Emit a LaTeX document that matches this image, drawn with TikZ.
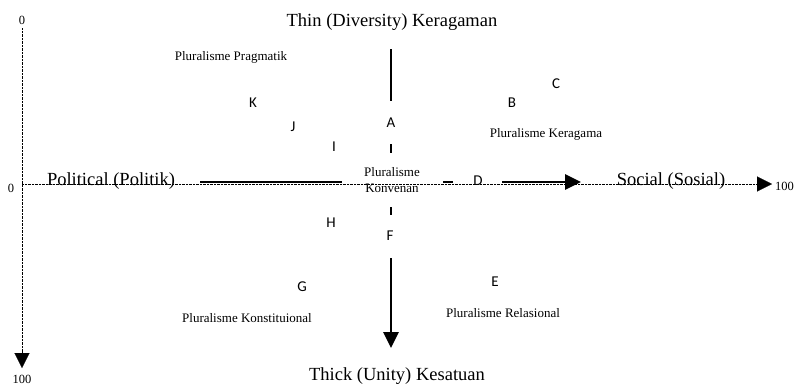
\documentclass[tikz,border=0pt]{standalone}
\usepackage{fontspec}
\setmainfont{Liberation Serif}
\newfontfamily\letterfont{Carlito}
\usetikzlibrary{arrows.meta}
\tikzset{
  axisline/.style={line width=0.9pt, dash pattern=on 0.7pt off 0.7pt},
  axishead/.style={-{Triangle[length=15pt,width=15pt]}},
  thickline/.style={line width=2.8pt},
  thickhead/.style={-{Triangle[length=16pt,width=15pt]}},
  axislabel/.style={font=\fontsize{18.5}{20}\selectfont, inner sep=0pt},
  smalltxt/.style={font=\fontsize{13}{15}\selectfont, inner sep=0pt},
  numtxt/.style={font=\fontsize{12.5}{14}\selectfont, inner sep=0pt},
  letter/.style={font=\letterfont\fontsize{15}{17}\selectfont, inner sep=0pt},
}
\begin{document}
\begin{tikzpicture}[x=1pt,y=-1pt]
\useasboundingbox (0,0) rectangle (796,386);
% axis number labels
\node[numtxt] (v0) at (22,20) {0};
\node[numtxt] (v100) at (22,379) {100};
\node[numtxt] (h0) at (11,188) {0};
\node[numtxt,anchor=west] (h100) at (775,186) {100};
% dotted axes
\coordinate (vtop) at (22,28);
\coordinate (vend) at (22,368);
\coordinate (hstart) at (22,184);
\coordinate (hend) at (772,184);
\draw[axisline] (vtop) -- (22,352);
\draw[axishead, line width=0.1pt] (22,352) -- (vend);
\draw[axisline] (hstart) -- (757,184);
\draw[axishead, line width=0.1pt] (757,184) -- (hend);
% axis titles
\node[axislabel] (pol) at (111,181) {Political (Politik)};
\node[axislabel] (soc) at (671,181) {Social (Sosial)};
\node[axislabel] (thin) at (392,22) {Thin (Diversity) Keragaman};
\node[axislabel] (thick) at (397,376) {Thick (Unity) Kesatuan};
% thick vertical
\coordinate (va1) at (391,49);
\coordinate (va2) at (391,101);
\coordinate (va3) at (391,144);
\coordinate (va4) at (391,153);
\coordinate (va5) at (391,207);
\coordinate (va6) at (391,215);
\coordinate (va7) at (391,258);
\coordinate (va8) at (391,348);
\draw[thickline] (va1) -- (va2);
\draw[thickline] (va3) -- (va4);
\draw[thickline] (va5) -- (va6);
\draw[thickline,thickhead] (va7) -- (va8);
% thick horizontal
\coordinate (ha1) at (200,182);
\coordinate (ha2) at (342,182);
\coordinate (ha3) at (443,182);
\coordinate (ha4) at (453,182);
\coordinate (ha5) at (502,182);
\coordinate (ha6) at (581,182);
\draw[thickline] (ha1) -- (ha2);
\draw[thickline] (ha3) -- (ha4);
\draw[thickline,thickhead] (ha5) -- (ha6);
% centre label
\node[smalltxt, align=center] (konv) at (392,180) {Pluralisme\\[1pt]Konvenan};
% quadrant labels
\node[smalltxt] (prag) at (231,57) {Pluralisme Pragmatik};
\node[smalltxt] (kerag) at (546,134) {Pluralisme Keragama};
\node[smalltxt] (konst) at (247,318) {Pluralisme Konstituional};
\node[smalltxt] (rel) at (503,313) {Pluralisme Relasional};
% letters
\node[letter] (K) at (253,103) {K};
\node[letter] (J) at (293,127) {J};
\node[letter] (I) at (334,147) {I};
\node[letter] (A) at (391,123) {A};
\node[letter] (B) at (512,103) {B};
\node[letter] (C) at (556,84) {C};
\node[letter] (D) at (478,181) {D};
\node[letter] (H) at (331,223) {H};
\node[letter] (F) at (390,236) {F};
\node[letter] (G) at (302,287) {G};
\node[letter] (E) at (495,282) {E};
\end{tikzpicture}
\end{document}
